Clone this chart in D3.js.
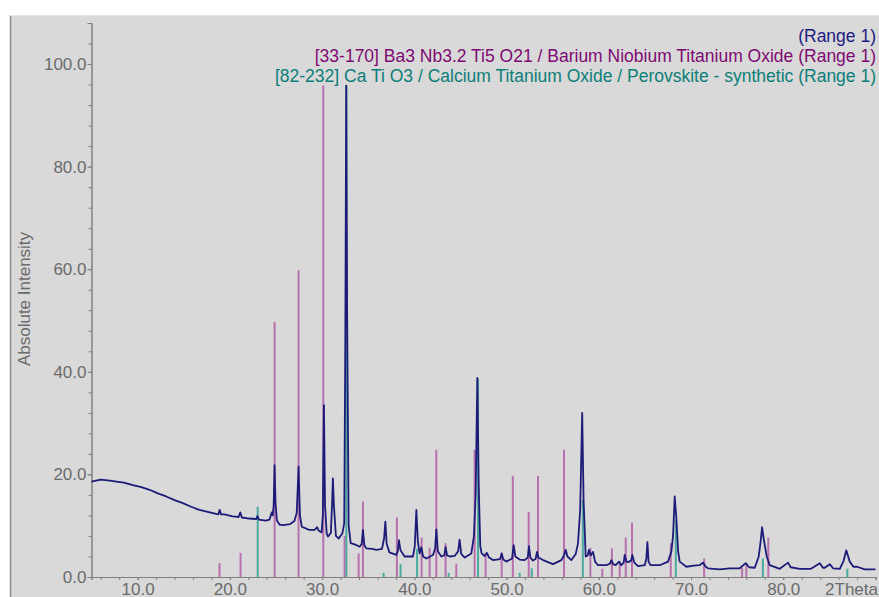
<html>
<script src='https://d3js.org/d3.v7.min.js'></script>
<style>
  body {margin:0; background:#fff;}
  text {font-family:"Liberation Sans", Arial, sans-serif; font-size:17px;}
  .axis path, .axis line {stroke:#808080;}
  .axis text {fill:#6b6b6b; font-size:17px;}
</style>
<body onload='init()'>
<svg width=879 height=597></svg>
<script>
// observed pattern (Range 1): [2Theta, intensity]
var observed = [[5.0,18.6],[6.0,19.0],[7.0,18.8],[7.7,18.6],[8.5,18.4],[9.5,17.9],[10.4,17.5],[11.3,17.0],[12.2,16.3],[13.1,15.7],[14.0,15.0],[14.9,14.4],[15.8,13.7],[16.7,13.1],[17.6,12.7],[18.5,12.3],[18.75,12.2],[18.9,13.1],[19.05,12.2],[19.4,12.2],[20.3,11.8],[20.95,11.7],[21.13,12.6],[21.3,11.6],[22.1,11.4],[22.85,11.3],[23.0,11.9],[23.15,11.2],[23.9,11.0],[24.3,11.2],[24.55,12.6],[24.65,12.0],[24.75,14.0],[24.85,21.8],[24.95,14.5],[25.1,11.0],[25.4,10.2],[25.8,10.1],[26.5,10.3],[27.0,10.9],[27.25,12.5],[27.45,21.5],[27.6,12.0],[27.8,9.8],[28.6,9.2],[29.2,9.2],[29.45,9.7],[29.65,9.0],[29.95,8.7],[30.08,12.0],[30.2,33.5],[30.32,14.0],[30.5,8.4],[30.65,7.9],[30.95,8.6],[31.1,15.0],[31.17,19.2],[31.28,14.0],[31.5,8.0],[31.8,7.5],[32.2,8.5],[32.4,10.5],[32.52,47.0],[32.62,95.8],[32.72,50.0],[32.88,10.0],[33.1,6.6],[33.6,6.3],[34.07,5.9],[34.3,6.5],[34.43,9.2],[34.58,6.2],[34.8,5.6],[35.4,5.5],[35.9,5.3],[36.5,5.5],[36.72,7.5],[36.86,10.8],[37.0,6.5],[37.3,4.8],[38.05,4.3],[38.2,5.0],[38.33,7.2],[38.5,5.2],[38.95,4.0],[39.85,4.0],[40.05,6.0],[40.22,13.1],[40.38,7.0],[40.57,4.6],[40.76,5.8],[40.95,4.0],[41.3,3.6],[42.02,4.3],[42.25,5.5],[42.39,9.3],[42.55,5.0],[42.93,4.0],[43.25,4.2],[43.39,5.8],[43.55,4.2],[43.83,4.0],[44.37,4.1],[44.75,5.0],[44.91,7.3],[45.08,4.5],[45.46,3.8],[46.18,4.6],[46.46,7.9],[46.65,16.0],[46.83,38.8],[46.98,18.0],[47.15,6.0],[47.3,4.6],[47.62,4.1],[47.87,4.7],[48.1,3.8],[48.52,3.3],[49.3,3.5],[49.47,4.6],[49.65,3.4],[49.98,3.0],[50.6,3.6],[50.77,6.2],[50.95,4.0],[51.42,3.4],[51.96,3.3],[52.3,3.8],[52.43,6.0],[52.58,3.8],[52.86,3.2],[53.15,3.5],[53.3,4.9],[53.45,3.8],[53.95,3.3],[55.03,2.5],[55.94,3.3],[56.25,4.3],[56.41,5.3],[56.6,4.0],[57.03,3.3],[57.5,4.5],[57.74,6.5],[57.98,13.0],[58.2,32.0],[58.35,15.0],[58.58,4.0],[58.8,4.2],[58.94,5.3],[59.12,4.2],[59.37,4.9],[59.6,3.0],[59.91,2.3],[60.82,2.3],[61.2,2.6],[61.37,3.3],[61.55,2.5],[61.83,2.3],[62.19,3.0],[62.45,2.3],[62.7,2.8],[62.81,4.3],[63.0,3.0],[63.17,2.9],[63.5,3.2],[63.64,4.3],[63.85,2.8],[64.25,2.1],[64.98,2.3],[65.15,3.5],[65.27,6.8],[65.4,3.0],[65.6,2.3],[66.61,2.3],[67.51,3.0],[67.87,5.0],[68.05,8.0],[68.23,15.7],[68.41,11.4],[68.6,5.0],[68.77,3.0],[69.5,2.0],[70.3,2.2],[70.93,2.3],[71.29,2.8],[71.6,2.0],[71.84,1.7],[73.11,1.5],[74.2,1.7],[75.28,1.7],[75.93,2.7],[76.3,1.9],[76.91,1.8],[77.34,4.0],[77.55,7.0],[77.7,9.7],[77.92,7.0],[78.21,4.0],[78.53,2.3],[79.62,1.6],[80.52,2.8],[80.8,1.9],[81.79,1.6],[83.0,1.6],[83.96,2.7],[84.3,1.8],[84.5,1.8],[85.04,2.5],[85.4,1.7],[86.13,1.6],[86.55,3.2],[86.83,5.2],[87.21,3.0],[87.6,2.0],[88.0,2.0],[88.84,1.5],[90.0,1.5]];

// [33-170] Ba3 Nb3.2 Ti5 O21 sticks
var bntPos = [18.88,21.16,24.85,27.45,30.13,32.44,33.96,34.43,38.11,40.79,41.66,42.38,43.39,44.55,46.54,47.73,49.47,50.68,52.40,53.41,56.23,59.09,60.38,61.42,62.27,62.92,63.60,67.80,71.42,75.54,76.00,78.38];
var bntInt = [2.7,4.7,49.7,59.8,95.8,8.0,4.6,14.7,11.6,7.7,5.7,24.8,6.6,2.6,24.8,4.7,4.7,19.7,12.7,19.7,24.8,5.7,1.6,5.6,3.0,7.7,10.6,6.6,3.6,1.8,2.5,7.7];

// [82-232] Ca Ti O3 sticks
var ctoPos = [23.02,32.63,36.67,38.51,40.30,43.72,46.91,51.42,52.73,58.27,68.35,77.79,86.95];
var ctoInt = [13.7,95.8,0.8,2.5,5.5,0.8,38.7,0.8,1.7,15.0,11.0,3.6,1.6];

var yMajor = [0,20,40,60,80,100];
var xMajor = [10,20,30,40,50,60,70,80,90];
var legend = [
  {label:"(Range 1)", color:"#1c1c80"},
  {label:"[33-170] Ba3 Nb3.2 Ti5 O21 / Barium Niobium Titanium Oxide (Range 1)", color:"#7e0a72"},
  {label:"[82-232] Ca Ti O3 / Calcium Titanium Oxide / Perovskite - synthetic (Range 1)", color:"#0b7f78"}
];

function init() {
  var svg = d3.select("svg");
  var x = d3.scaleLinear().domain([5,90]).range([91.5,875.5]);
  var y = d3.scaleLinear().domain([0,108]).range([577,23]);

  // panel
  svg.append("rect").attr("x",10).attr("y",15).attr("width",869).attr("height",582)
     .attr("fill","#d9d9d9").attr("stroke","none");
  svg.append("line").attr("x1",10.5).attr("x2",10.5).attr("y1",15).attr("y2",597)
     .attr("stroke","#8a8a8a").attr("stroke-width",1.5);
  svg.append("line").attr("x1",10).attr("x2",879).attr("y1",15.5).attr("y2",15.5)
     .attr("stroke","#e6e6e6");

  // axes: minor ticks then majors
  svg.append("g").attr("class","axis").attr("transform","translate(91.5,0)")
     .call(d3.axisLeft(y).tickValues(d3.range(0,108,4)).tickSize(3).tickFormat(""));
  svg.append("g").attr("class","axis").attr("transform","translate(91.5,0)")
     .call(d3.axisLeft(y).tickValues(yMajor).tickSize(4).tickPadding(1).tickFormat(d3.format(".1f")));
  svg.append("g").attr("class","axis").attr("transform","translate(0,577)")
     .call(d3.axisBottom(x).tickValues(d3.range(6,90,2)).tickSize(3).tickFormat(""));
  var xa = svg.append("g").attr("class","axis").attr("transform","translate(0,577)")
     .call(d3.axisBottom(x).tickValues(xMajor).tickSize(3).tickPadding(3)
       .tickFormat(function(d){ return d == 90 ? "2Theta" : d3.format(".1f")(d); }));
  xa.selectAll(".tick").filter(function(d){ return d == 90; }).select("text")
     .attr("text-anchor","end").attr("x",2);
  svg.selectAll(".axis .domain").attr("stroke","#808080");

  svg.append("text").attr("transform","translate(30,299) rotate(-90)")
     .attr("text-anchor","middle").attr("fill","#6b6b6b").text("Absolute Intensity");

  // reference sticks
  svg.append("g").selectAll("line").data(bntPos).enter().append("line")
     .attr("x1",function(d){return x(d);}).attr("x2",function(d){return x(d);})
     .attr("y1",y(0)).attr("y2",function(d,i){return y(bntInt[i]);})
     .attr("stroke","#b870ae").attr("stroke-width",2);
  svg.append("g").selectAll("line").data(ctoPos).enter().append("line")
     .attr("x1",function(d){return x(d);}).attr("x2",function(d){return x(d);})
     .attr("y1",y(0)).attr("y2",function(d,i){return y(ctoInt[i]);})
     .attr("stroke","#4aaa9e").attr("stroke-width",2);

  // observed pattern
  var line = d3.line().x(function(d){return x(d[0]);}).y(function(d){return y(d[1]);});
  svg.append("path").datum(observed).attr("d",line)
     .attr("fill","none").attr("stroke","#1c1c78").attr("stroke-width",1.8)
     .attr("stroke-linejoin","round");

  svg.append("g").selectAll("text").data(legend).enter().append("text")
     .attr("x",876).attr("y",function(d,i){return 42 + i*20;})
     .attr("text-anchor","end").attr("fill",function(d){return d.color;})
     .style("font-size","17.5px")
     .text(function(d){return d.label;});
}
</script>
</body>
</html>
